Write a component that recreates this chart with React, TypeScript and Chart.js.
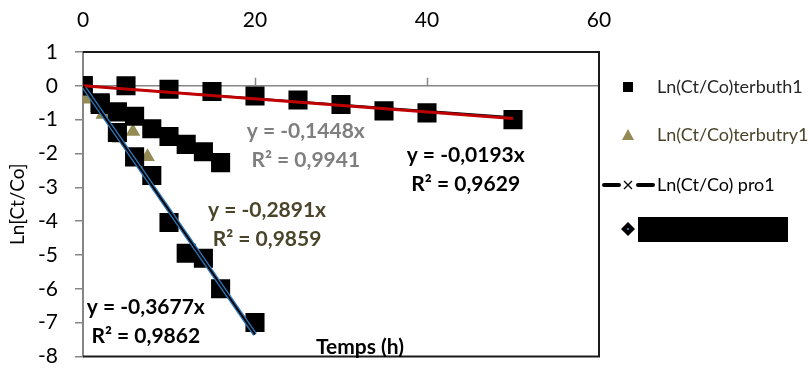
import React, { useEffect, useRef } from "react";
import { Chart, registerables } from "chart.js";

Chart.register(...registerables);

// ---- data ----
const xTickValues = [0, 20, 40, 60];

// slow series (black squares, red trendline)
const timeSlow = [0, 5, 10, 15, 20, 25, 30, 35, 40, 50];
const lnSlow = [0, 0, -0.1, -0.17, -0.3, -0.42, -0.55, -0.74, -0.8, -1.0];

// medium series (black squares)
const timeMid = [0, 2, 4, 6, 8, 10, 12, 14, 16];
const lnMid = [0, -0.55, -0.77, -0.9, -1.27, -1.5, -1.73, -1.95, -2.27];

// fast series (black squares, blue trendline)
const timeFast = [0, 2, 4, 6, 8, 10, 12, 14, 16, 20];
const lnFast = [0, -0.5, -1.38, -2.1, -2.65, -4.04, -4.95, -5.1, -6.0, -7.0];

// terbutry1 (khaki triangles)
const timeTri = [0, 0.4, 2.3, 3.4, 4.2, 5.8, 7.5];
const lnTri = [0, -0.4, -0.85, -0.75, -1.55, -1.35, -2.1];

// trendline end points
const trendSlowX = [0, 50];
const trendSlowY = [0, -0.965];
const trendSlowEdgeY = [0, -0.92];
const trendFastX = [0, 20];
const trendFastY = [0, -7.354];

// trendline equation labels
const eqLine1 = ["y = -0,1448x", "y = -0,0193x", "y = -0,2891x", "y = -0,3677x"];
const eqLine2 = ["R² = 0,9941", "R² = 0,9629", "R² = 0,9859", "R² = 0,9862"];
const eqX = [25.9, 44.5, 21.4, 7.3];
const eqY = [-1.335, -2.05, -3.67, -6.55];
const eqColors = ["#7F7F7F", "#000000", "#4A452A", "#000000"];

const legendLabels = ["Ln(Ct/Co)terbuth1", "Ln(Ct/Co)terbutry1", "Ln(Ct/Co) pro1"];
const xTitle = "Temps (h)";
const yTitle = "Ln[Ct/Co]";

const FONT = "Lato, 'Open Sans', sans-serif";
const KHAKI = "#948A54";

const pts = (xs: number[], ys: number[]) => xs.map((x, i) => ({ x, y: ys[i] }));

const decor = {
  id: "decor",
  beforeDatasetsDraw(chart: any) {
    const { ctx, chartArea: a, scales } = chart;
    const x = scales.x;
    const y = scales.y;
    ctx.save();
    const y0 = y.getPixelForValue(0);
    ctx.strokeStyle = "#868686";
    ctx.lineWidth = 1.5;
    ctx.beginPath();
    ctx.moveTo(a.left, y0);
    ctx.lineTo(a.right, y0);
    for (const t of xTickValues) {
      if (t > 0 && t < 60) {
        const px = Math.round(x.getPixelForValue(t)) + 0.5;
        ctx.moveTo(px, y0);
        ctx.lineTo(px, y0 - 8);
      }
    }
    ctx.stroke();
    ctx.strokeStyle = "#1a1a1a";
    ctx.lineWidth = 2;
    ctx.beginPath();
    ctx.moveTo(a.left, a.top);
    ctx.lineTo(a.right, a.top);
    ctx.lineTo(a.right, a.bottom);
    ctx.lineTo(a.left, a.bottom);
    ctx.stroke();
    ctx.restore();
  },
  afterDatasetsDraw(chart: any) {
    const { ctx, chartArea: a, scales } = chart;
    const x = scales.x;
    const y = scales.y;
    ctx.save();
    ctx.textAlign = "center";
    ctx.textBaseline = "middle";
    ctx.font = `bold 21px ${FONT}`;
    eqLine1.forEach((t, i) => {
      const px = x.getPixelForValue(eqX[i]);
      const py = y.getPixelForValue(eqY[i]);
      ctx.fillStyle = eqColors[i];
      ctx.fillText(t, px, py);
      ctx.fillText(eqLine2[i], px, py + 29);
    });
    ctx.fillStyle = "#000";
    ctx.fillText(xTitle, (a.left + a.right) / 2 + 19, a.bottom - 9);
    ctx.restore();
  },
  afterDraw(chart: any) {
    const { ctx } = chart;
    const mx = 628;
    const tx = 657;
    const rows = [87, 135, 185, 229];
    ctx.save();
    ctx.font = `18px ${FONT}`;
    ctx.textBaseline = "middle";
    ctx.textAlign = "left";
    // row 1: black square
    ctx.fillStyle = "#000";
    ctx.fillRect(mx - 5, rows[0] - 5, 10, 10);
    ctx.fillStyle = "#262626";
    ctx.fillText(legendLabels[0], tx, rows[0]);
    // row 2: khaki triangle
    ctx.fillStyle = KHAKI;
    ctx.beginPath();
    ctx.moveTo(mx, rows[1] - 6);
    ctx.lineTo(mx + 6, rows[1] + 5);
    ctx.lineTo(mx - 6, rows[1] + 5);
    ctx.closePath();
    ctx.fill();
    ctx.fillStyle = "#4A452A";
    ctx.fillText(legendLabels[1], tx, rows[1]);
    // row 3: thick line with x marker
    ctx.strokeStyle = "#000";
    ctx.lineWidth = 4;
    ctx.lineCap = "round";
    ctx.beginPath();
    ctx.moveTo(604, rows[2]);
    ctx.lineTo(619, rows[2]);
    ctx.moveTo(638, rows[2]);
    ctx.lineTo(653, rows[2]);
    ctx.stroke();
    ctx.lineWidth = 1.3;
    ctx.lineCap = "butt";
    ctx.beginPath();
    ctx.moveTo(mx - 4, rows[2] - 4);
    ctx.lineTo(mx + 4, rows[2] + 4);
    ctx.moveTo(mx + 4, rows[2] - 4);
    ctx.lineTo(mx - 4, rows[2] + 4);
    ctx.stroke();
    ctx.fillStyle = "#000";
    ctx.fillText(legendLabels[2], tx, rows[2]);
    // row 4: diamond + redacted box
    ctx.fillStyle = "#000";
    ctx.beginPath();
    ctx.moveTo(mx - 7, rows[3]);
    ctx.lineTo(mx, rows[3] - 7);
    ctx.lineTo(mx + 7, rows[3]);
    ctx.lineTo(mx, rows[3] + 7);
    ctx.closePath();
    ctx.fill();
    ctx.fillStyle = "#2E75B6";
    ctx.fillRect(mx - 1, rows[3] - 1, 2, 2);
    ctx.fillStyle = "#000";
    ctx.fillRect(638, rows[3] - 12, 150, 25);
    ctx.restore();
  },
};

export default function App() {
  const ref = useRef<HTMLCanvasElement | null>(null);
  useEffect(() => {
    if (!ref.current) return;
    const lineDs = (data: any, color: string, width: number, order: number) => ({
      type: "scatter" as const,
      data,
      showLine: true,
      borderColor: color,
      backgroundColor: color,
      borderWidth: width,
      pointRadius: 0,
      fill: false,
      tension: 0,
      order,
    });
    const sqDs = (data: any) => ({
      type: "scatter" as const,
      data,
      pointStyle: "rect",
      pointRadius: 13.5,
      backgroundColor: "#000",
      borderColor: "#000",
      borderWidth: 0,
      order: 2,
    });
    const chart = new Chart(ref.current, {
      type: "scatter",
      data: {
        datasets: [
          lineDs(pts(trendFastX, trendFastY), "#000", 1.8, 0),
          lineDs(pts(trendFastX, trendFastY), "#2E75B6", 4.5, 1),
          lineDs(pts(trendSlowX, trendSlowY), "#C00000", 3, 0),
          lineDs(pts(trendSlowX, trendSlowEdgeY), "#000", 1.5, 1),
          sqDs(pts(timeSlow, lnSlow)),
          sqDs(pts(timeMid, lnMid)),
          sqDs(pts(timeFast, lnFast)),
          {
            type: "scatter" as const,
            data: pts(timeTri, lnTri),
            pointStyle: "triangle",
            pointRadius: 8.5,
            backgroundColor: KHAKI,
            borderColor: KHAKI,
            borderWidth: 0,
            order: 3,
          },
        ] as any,
      },
      options: {
        animation: false,
        responsive: false,
        layout: { padding: { left: 0, top: 0, right: 209, bottom: 6 } },
        plugins: { legend: { display: false }, tooltip: { enabled: false } },
        scales: {
          x: {
            type: "linear",
            position: "top",
            min: 0,
            max: 60,
            afterFit: (s: any) => {
              s.height = 52;
            },
            ticks: {
              stepSize: 20,
              maxRotation: 0,
              padding: 19,
              color: "#000",
              font: { family: FONT, size: 21 },
            },
            grid: { display: false, drawTicks: false },
            border: { display: false },
          },
          y: {
            type: "linear",
            min: -8,
            max: 1,
            afterFit: (s: any) => {
              s.width = 83;
            },
            ticks: {
              stepSize: 1,
              padding: 17,
              color: "#000",
              font: { family: FONT, size: 21 },
            },
            grid: {
              drawOnChartArea: false,
              color: "#868686",
              lineWidth: 1.5,
              tickLength: 8,
            },
            border: { display: true, color: "#868686", width: 2 },
            title: {
              display: true,
              text: yTitle,
              color: "#000",
              font: { family: FONT, size: 19 },
              padding: { top: 6, bottom: 0 },
            },
          },
        },
      } as any,
      plugins: [decor],
    });
    return () => chart.destroy();
  }, []);
  return (
    <div style={{ position: "fixed", left: 0, top: 0, width: 808, height: 386, background: "#fff" }}>
      <canvas ref={ref} width={808} height={386} style={{ display: "block" }} />
    </div>
  );
}
